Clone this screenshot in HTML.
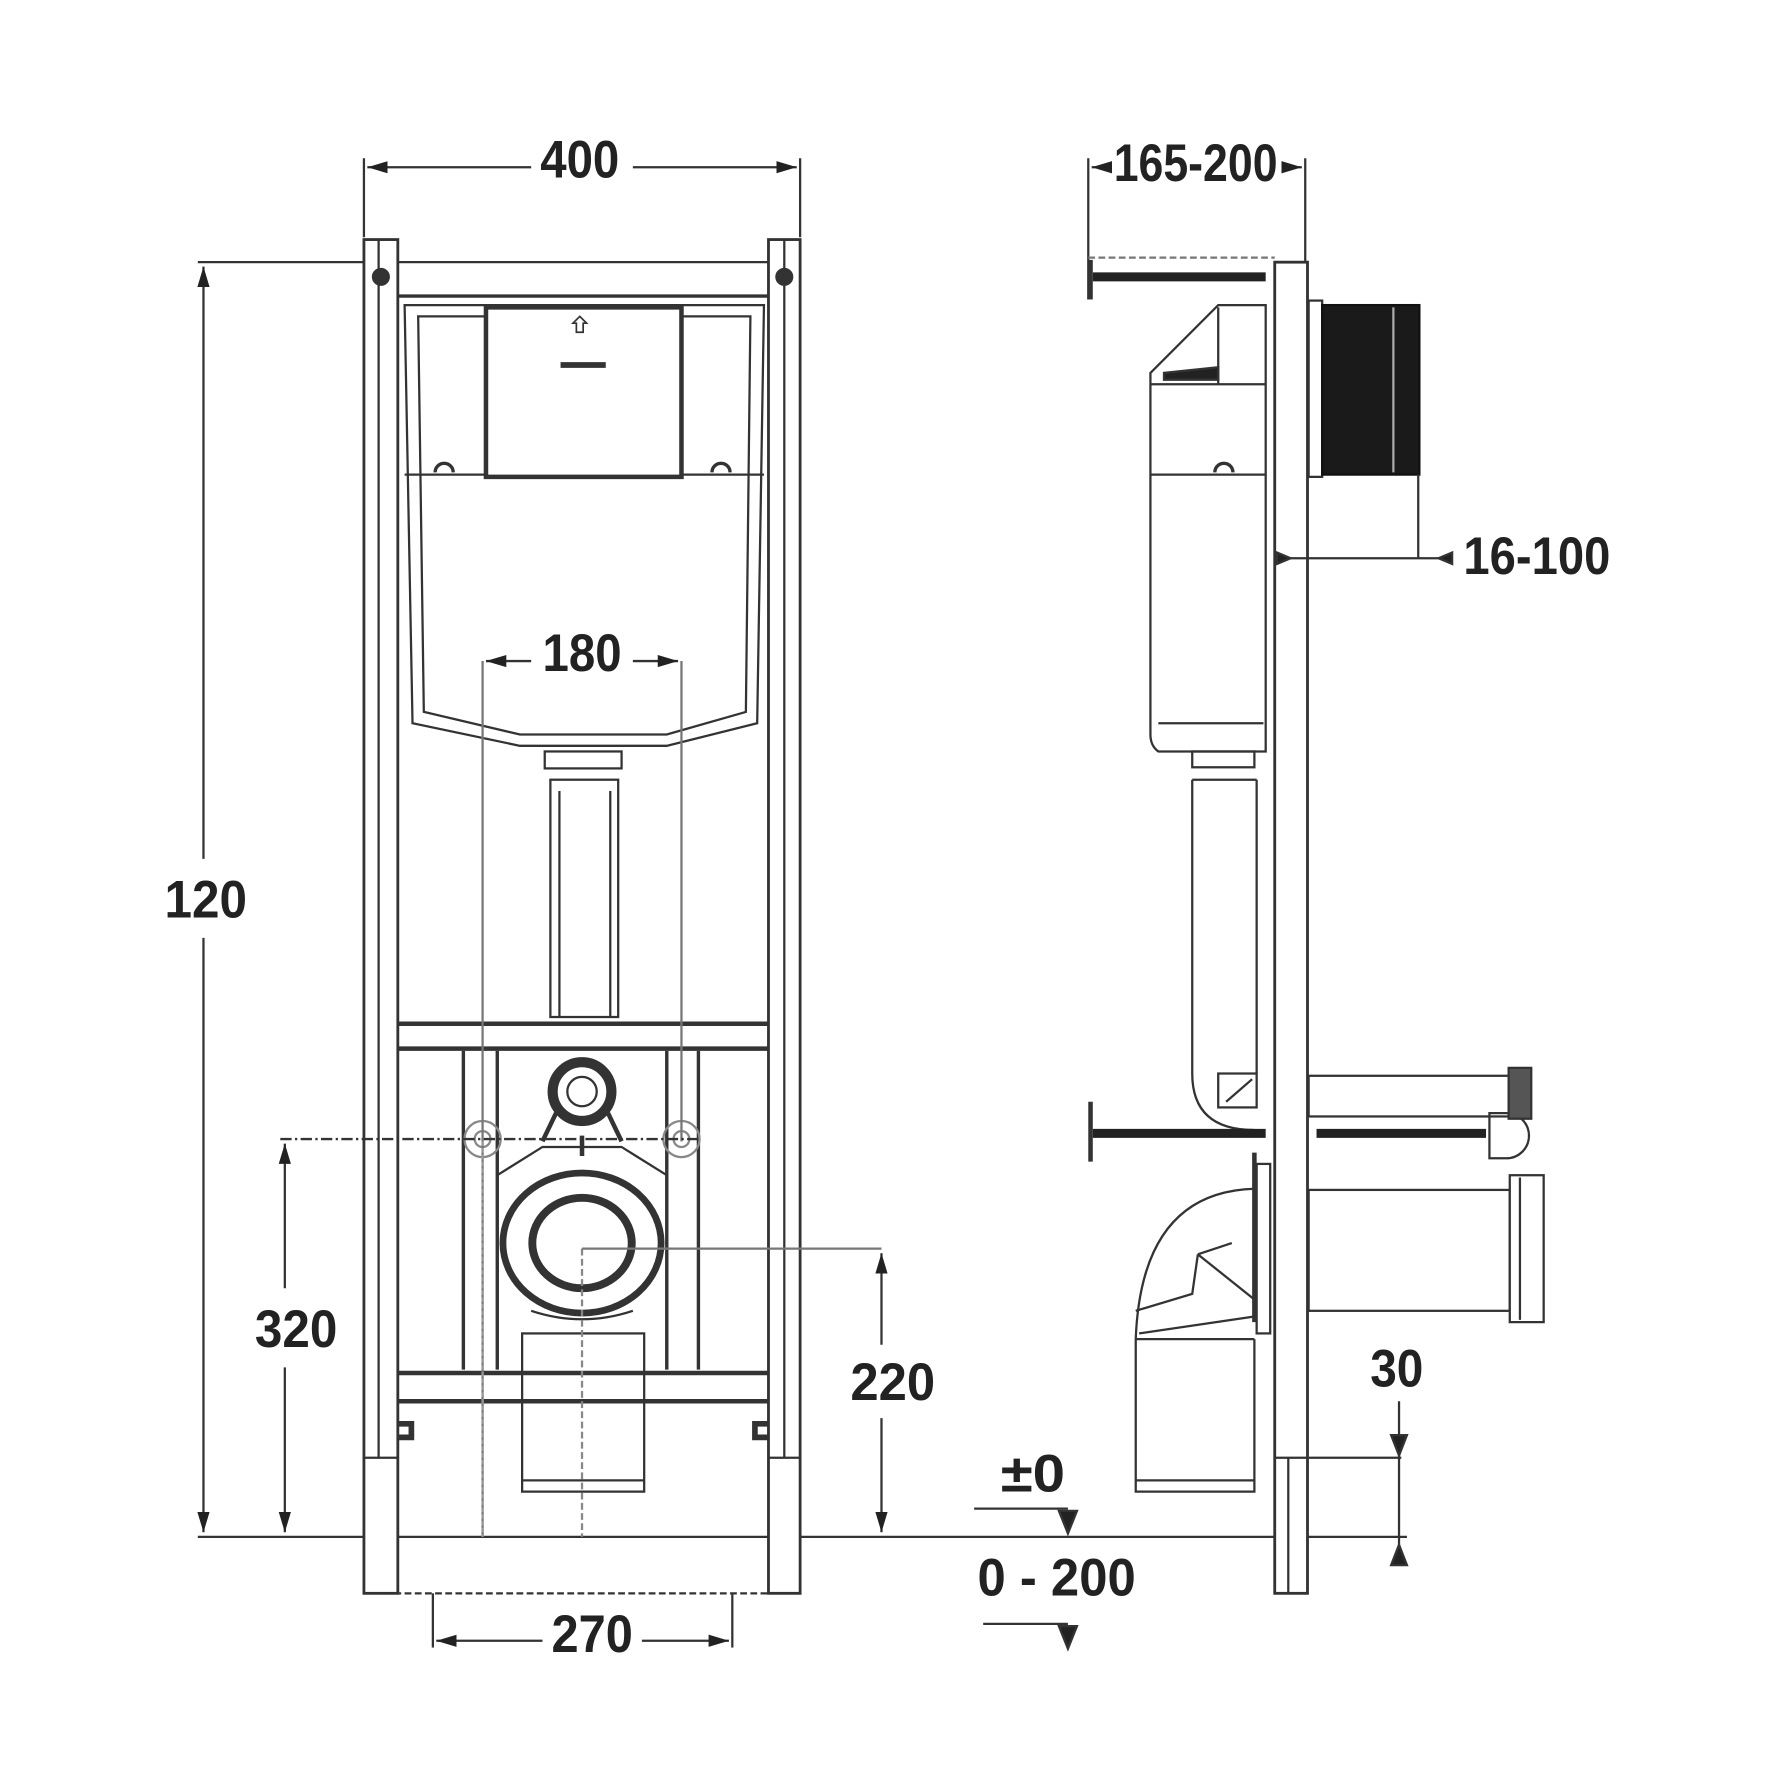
<!DOCTYPE html>
<html><head><meta charset="utf-8"><style>
html,body{margin:0;padding:0;background:#fff}
svg{display:block}
text{font-family:"Liberation Sans Narrow","Liberation Sans",sans-serif;font-weight:bold;fill:#222;font-size:47px;text-anchor:middle}
</style></head><body>
<svg width="1772" height="1773" viewBox="0 0 1568 1569" xmlns="http://www.w3.org/2000/svg">
<defs>
<marker id="a" viewBox="0 0 10 10" refX="10" refY="5" markerWidth="9" markerHeight="9" orient="auto-start-reverse"><path d="M0,2L10,5L0,8z" fill="#222"/></marker>
</defs>
<g stroke="#333" fill="none" stroke-width="2">
<line x1="322" y1="140" x2="322" y2="210"/><line x1="708" y1="140" x2="708" y2="210"/>
<line x1="325" y1="148" x2="470" y2="148" marker-start="url(#a)"/><line x1="560" y1="148" x2="705" y2="148" marker-end="url(#a)"/>
<line x1="175" y1="232" x2="708" y2="232"/>
<line x1="180" y1="236" x2="180" y2="760" marker-start="url(#a)"/><line x1="180" y1="830" x2="180" y2="1356" marker-end="url(#a)"/>
<line x1="175" y1="1360" x2="1245" y2="1360"/>
<rect x="322" y="212" width="30" height="1198" fill="#fff" stroke-width="2.5"/>
<line x1="335" y1="212" x2="335" y2="1290"/>
<rect x="680" y="212" width="28" height="1198" fill="#fff" stroke-width="2.5"/>
<line x1="694" y1="212" x2="694" y2="1290"/>
<line x1="322" y1="1290" x2="352" y2="1290"/><line x1="680" y1="1290" x2="708" y2="1290"/>
<line x1="322" y1="1410" x2="708" y2="1410" stroke-dasharray="6 3"/>
<circle cx="337" cy="245" r="7" fill="#333"/><circle cx="694" cy="245" r="7" fill="#333"/>
<line x1="352" y1="262" x2="680" y2="262" stroke-width="3"/>
<path d="M358,270 L676,270 L670,640 L590,660 L460,660 L365,640 Z" fill="#fff"/>
<path d="M370,280 L664,280 L660,630 L590,650 L460,650 L375,630 Z"/>
<line x1="358" y1="420" x2="676" y2="420"/>
<rect x="430" y="272" width="173" height="150" fill="#fff" stroke-width="4"/>
<path d="M385,418 a8,8 0 0 1 16,0 M630,418 a8,8 0 0 1 16,0" stroke-width="3"/>
<path d="M513,280 l6,6 h-3 v8 h-6 v-8 h-3z" stroke-width="1.5"/>
<line x1="496" y1="323" x2="536" y2="323" stroke-width="5"/>
<rect x="482" y="665" width="68" height="15"/>
<rect x="487" y="690" width="60" height="210"/><line x1="495" y1="700" x2="495" y2="900"/><line x1="540" y1="700" x2="540" y2="900"/>
<line x1="352" y1="906" x2="680" y2="906" stroke-width="4"/><line x1="352" y1="928" x2="680" y2="928" stroke-width="4"/>
<line x1="352" y1="1215" x2="680" y2="1215" stroke-width="4"/><line x1="352" y1="1240" x2="680" y2="1240" stroke-width="4"/>
<line x1="410" y1="930" x2="410" y2="1212" stroke-width="3"/><line x1="440" y1="930" x2="440" y2="1212" stroke-width="3"/>
<line x1="590" y1="930" x2="590" y2="1212" stroke-width="3"/><line x1="618" y1="930" x2="618" y2="1212" stroke-width="3"/>
<circle cx="515" cy="966" r="26" stroke-width="9"/><circle cx="515" cy="966" r="13"/>
<path d="M492,985 L480,1010 M538,985 L550,1010 M515,1005 v18" stroke-width="4"/>
<path d="M440,1040 L480,1015 H550 L590,1040" />
<circle cx="427" cy="1008" r="16" stroke="#888"/><circle cx="427" cy="1008" r="7" stroke="#888"/>
<circle cx="603" cy="1008" r="16" stroke="#888"/><circle cx="603" cy="1008" r="7" stroke="#888"/>
<ellipse cx="515" cy="1100" rx="70" ry="62" stroke-width="6"/>
<ellipse cx="515" cy="1100" rx="44" ry="40" stroke-width="7"/>
<path d="M470,1160 Q515,1175 560,1160"/>
<rect x="462" y="1180" width="108" height="140"/><line x1="462" y1="1310" x2="570" y2="1310"/>
<path d="M352,1260 h12 v12 h-12 M680,1260 h-12 v12 h12" stroke-width="5"/>
<line x1="427" y1="585" x2="427" y2="1360" stroke="#777"/><line x1="603" y1="585" x2="603" y2="1010" stroke="#777"/>
<line x1="427" y1="1010" x2="427" y2="1360" stroke="#999" stroke-dasharray="4 2"/>
<line x1="515" y1="1105" x2="515" y2="1360" stroke="#888" stroke-dasharray="6 3"/>
<line x1="430" y1="585" x2="470" y2="585" marker-start="url(#a)"/><line x1="560" y1="585" x2="600" y2="585" marker-end="url(#a)"/>
<line x1="248" y1="1008" x2="620" y2="1008" stroke-dasharray="10 3 2 3"/>
<line x1="252" y1="1012" x2="252" y2="1140" marker-start="url(#a)"/><line x1="252" y1="1210" x2="252" y2="1356" marker-end="url(#a)"/>
<line x1="515" y1="1105" x2="780" y2="1105" stroke="#777"/>
<line x1="780" y1="1109" x2="780" y2="1190" marker-start="url(#a)"/><line x1="780" y1="1255" x2="780" y2="1356" marker-end="url(#a)"/>
<line x1="383" y1="1410" x2="383" y2="1458"/><line x1="648" y1="1410" x2="648" y2="1458"/>
<line x1="386" y1="1452" x2="480" y2="1452" marker-start="url(#a)"/><line x1="568" y1="1452" x2="645" y2="1452" marker-end="url(#a)"/>
<line x1="862" y1="1335" x2="945" y2="1335"/><path d="M937,1337 h16 l-8,20z" fill="#222"/>
<line x1="870" y1="1437" x2="945" y2="1437"/><path d="M937,1439 h16 l-8,20z" fill="#222"/>
<line x1="963" y1="140" x2="963" y2="265"/><line x1="1155" y1="140" x2="1155" y2="232"/>
<line x1="966" y1="148" x2="980" y2="148" marker-start="url(#a)"/><line x1="1136" y1="148" x2="1152" y2="148" marker-end="url(#a)"/>
<line x1="963" y1="228" x2="1128" y2="228" stroke="#777" stroke-dasharray="6 3"/>
<rect x="1128" y="232" width="29" height="1178" fill="#fff" stroke-width="2.5"/>
<line x1="1128" y1="1290" x2="1157" y2="1290"/><line x1="1140" y1="1290" x2="1140" y2="1410"/>
<line x1="967" y1="245" x2="1120" y2="245" stroke-width="8" stroke="#222"/>
<line x1="965" y1="230" x2="965" y2="265" stroke-width="4"/>
<path d="M1018,340 L1018,330 L1078,270 L1120,270 L1120,665 L1025,665 Q1018,660 1018,650 Z" fill="#fff"/>
<line x1="1018" y1="340" x2="1120" y2="340"/><line x1="1018" y1="420" x2="1120" y2="420"/>
<line x1="1078" y1="272" x2="1078" y2="340"/>
<path d="M1030,330 L1078,325 L1078,336 L1030,336Z" fill="#222"/>
<path d="M1075,418 a8,8 0 0 1 16,0" stroke-width="3"/>
<line x1="1025" y1="640" x2="1118" y2="640"/>
<rect x="1055" y="665" width="55" height="14"/>
<rect x="1158" y="266" width="12" height="156"/>
<rect x="1170" y="270" width="86" height="150" fill="#1a1a1a" stroke="#111"/>
<line x1="1233" y1="272" x2="1233" y2="418" stroke="#aaa"/>
<line x1="1255" y1="420" x2="1255" y2="494"/>
<line x1="1130" y1="494" x2="1282" y2="494"/><path d="M1130,489 l12,5 l-12,5z M1285,489 l-12,5 l12,5z" fill="#222"/>
<path d="M1055,690 V950 Q1055,1000 1110,1000" fill="#fff"/>
<line x1="1112" y1="690" x2="1112" y2="950"/><line x1="1055" y1="690" x2="1112" y2="690"/>
<rect x="1078" y="950" width="34" height="30"/><path d="M1085,975 L1108,955"/>
<line x1="967" y1="1003" x2="1120" y2="1003" stroke-width="8" stroke="#222"/>
<line x1="965" y1="975" x2="965" y2="1028" stroke-width="4"/>
<line x1="1165" y1="1003" x2="1315" y2="1003" stroke-width="8" stroke="#222"/>
<path d="M1318,985 h15 a20,20 0 0 1 0,40 h-15z" fill="#fff"/>
<rect x="1158" y="952" width="180" height="36" fill="none"/>
<rect x="1335" y="945" width="20" height="45" fill="#555"/>
<rect x="1158" y="1053" width="178" height="107"/>
<rect x="1336" y="1040" width="30" height="130" fill="#fff"/>
<line x1="1345" y1="1042" x2="1345" y2="1168"/>
<path d="M1110,1052 Q1010,1055 1005,1185 L1005,1320 L1110,1320 L1110,1185" fill="#fff"/>
<path d="M1008,1180 L1110,1165 M1060,1110 L1110,1150 M1060,1110 L1090,1100 M1060,1110 L1055,1145 L1005,1160" />
<line x1="1005" y1="1185" x2="1110" y2="1185"/><line x1="1005" y1="1310" x2="1110" y2="1310"/>
<line x1="1110" y1="1020" x2="1110" y2="1170" stroke-width="4"/>
<rect x="1112" y="1030" width="12" height="150"/>
<line x1="1158" y1="1290" x2="1240" y2="1290"/>
<line x1="1238" y1="1240" x2="1238" y2="1385"/>
<path d="M1231,1270 h14 l-7,18z M1231,1385 h14 l-7,-18z" fill="#222"/>
</g>
<text x="513" y="157" textLength="70" lengthAdjust="spacingAndGlyphs">400</text>
<text x="1058" y="160" textLength="145" lengthAdjust="spacingAndGlyphs">165-200</text>
<text x="1360" y="508" textLength="130" lengthAdjust="spacingAndGlyphs">16-100</text>
<text x="515" y="594" textLength="70" lengthAdjust="spacingAndGlyphs">180</text>
<text x="182" y="812" textLength="73" lengthAdjust="spacingAndGlyphs">120</text>
<text x="262" y="1192" textLength="73" lengthAdjust="spacingAndGlyphs">320</text>
<text x="790" y="1239" textLength="75" lengthAdjust="spacingAndGlyphs">220</text>
<text x="1236" y="1227" textLength="47" lengthAdjust="spacingAndGlyphs">30</text>
<text x="914" y="1320" textLength="57" lengthAdjust="spacingAndGlyphs">±0</text>
<text x="935" y="1412" textLength="140" lengthAdjust="spacingAndGlyphs">0 - 200</text>
<text x="524" y="1462" textLength="72" lengthAdjust="spacingAndGlyphs">270</text>
</svg>
</body></html>
